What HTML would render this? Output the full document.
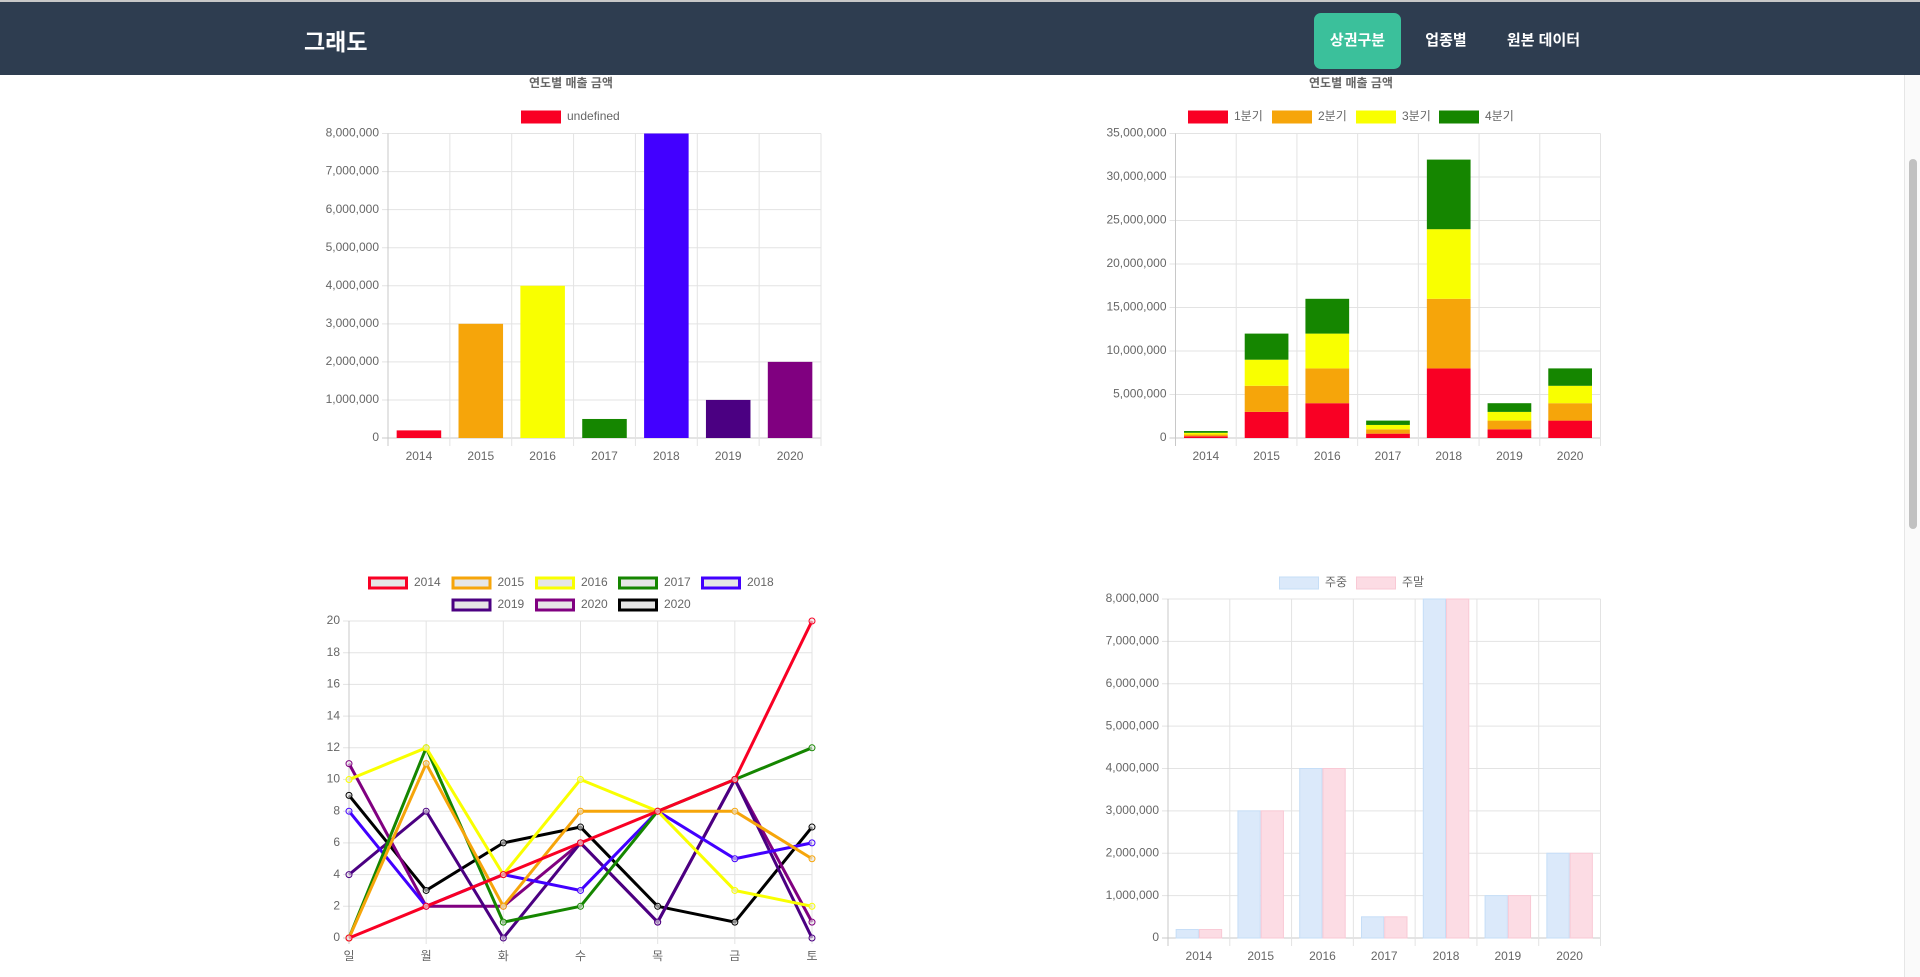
<!DOCTYPE html>
<html><head><meta charset="utf-8">
<style>
html,body{margin:0;padding:0;width:1920px;height:977px;overflow:hidden;background:#fff;font-family:"Liberation Sans","Noto Sans CJK KR",sans-serif;}
#hdr{position:absolute;left:0;top:0;width:1920px;height:75px;background:#2e3d50;border-top:2px solid #c8c8c8;box-sizing:border-box;}
#logo{position:absolute;left:304px;top:21px;color:#fff;font-size:23px;font-weight:bold;}
.tab{position:absolute;top:11px;height:56px;line-height:56px;color:#fff;font-size:15px;font-weight:bold;text-align:center;border-radius:7px;}
#svg{position:absolute;left:0;top:0;}
#sb{position:absolute;left:1904px;top:75px;width:16px;height:902px;background:#fafafa;border-left:1px solid #e6e6e6;}
#thumb{position:absolute;left:4px;top:84px;width:8px;height:370px;background:#c1c1c1;border-radius:4px;}
</style></head><body>
<div id="hdr">
<div id="logo">그래도</div>
<div class="tab" style="left:1314px;width:87px;background:#3bc09b;">상권구분</div>
<div class="tab" style="left:1416px;width:60px;">업종별</div>
<div class="tab" style="left:1496px;width:95px;">원본 데이터</div>
</div>
<svg id="svg" width="1904" height="977" xmlns="http://www.w3.org/2000/svg"></svg>
<div id="sb"><div id="thumb"></div></div>
<script>
const years = ["2014","2015","2016","2017","2018","2019","2020"];
const yearColors = ["#f90024","#f6a50a","#f9ff00","#158600","#4200ff","#4b0082","#800080"];
const yearSales = [200000,3000000,4000000,500000,8000000,1000000,2000000];
const q1 = [200000,3000000,4000000,500000,8000000,1000000,2000000];
const q2 = [200000,3000000,4000000,500000,8000000,1000000,2000000];
const q3 = [200000,3000000,4000000,500000,8000000,1000000,2000000];
const q4 = [200000,3000000,4000000,500000,8000000,1000000,2000000];
const quarterNames = ["1분기","2분기","3분기","4분기"];
const quarterColors = ["#f90024","#f6a50a","#f9ff00","#158600"];
const days = ["일","월","화","수","목","금","토"];
const lineNames = ["2014","2015","2016","2017","2018","2019","2020","2020"];
const lineColors = ["#f90024","#f6a50a","#f9ff00","#158600","#4200ff","#4b0082","#800080","#000000"];
const l2014 = [0,2,4,6,8,10,20];
const l2015 = [0,11,2,8,8,8,5];
const l2016 = [10,12,4,10,8,3,2];
const l2017 = [0,12,1,2,8,10,12];
const l2018 = [8,2,4,3,8,5,6];
const l2019 = [4,8,0,6,1,10,0];
const l2020 = [11,2,2,6,1,10,1];
const l2020b = [9,3,6,7,2,1,7];
const weekday = [200000,3000000,4000000,500000,8000000,1000000,2000000];
const weekend = [200000,3000000,4000000,500000,8000000,1000000,2000000];

const S = document.getElementById('svg');
const NS = 'http://www.w3.org/2000/svg';
function mk(tag, attrs, parent){const e=document.createElementNS(NS,tag);for(const k in attrs)e.setAttribute(k,attrs[k]);(parent||S).appendChild(e);return e;}
function txt(x,y,s,anchor,size,weight,parent){const t=mk('text',{x:x,y:y,'text-anchor':anchor||'middle','font-size':size||12,fill:'#666','font-family':'"Liberation Sans","Noto Sans CJK KR",sans-serif','dominant-baseline':'middle','font-weight':weight||'normal'},parent);t.textContent=s;return t;}
function fmt(v){return v.toLocaleString('en-US');}

function axes(g,L,R,T,B,max,step,ticksFmt,cats,catMode,labelY){
  const y=v=>B-(v/max)*(B-T);
  for(let v=0;v<=max+1e-9;v+=step){
    const yy=y(v);
    const gl=mk('line',{x1:L-6,x2:R,y1:yy,y2:yy,stroke:v===0?'#c8c8c8':'#e3e3e3','stroke-width':1},g);
    
    
    const t=txt(L-9,yy,ticksFmt(v),'end',12,'normal',g);
    
    
  }
  const n=cats.length;
  if(catMode==='band'){
    const w=(R-L)/n;
    for(let i=0;i<=n;i++){const xx=L+i*w;const l=mk('line',{x1:xx,x2:xx,y1:T,y2:B+8,stroke:i===0?'#c8c8c8':'#e3e3e3'},g);}
    cats.forEach((c,i)=>{const t=txt(L+(i+0.5)*w,labelY,c,'middle',12,'normal',g);});
  } else {
    const w=(R-L)/(n-1);
    for(let i=0;i<n;i++){const xx=L+i*w;const l=mk('line',{x1:xx,x2:xx,y1:T,y2:B+6,stroke:i===0?'#c8c8c8':'#e3e3e3'},g);}
    cats.forEach((c,i)=>{const t=txt(L+i*w,labelY,c,'middle',12,'normal',g);});
  }
  return y;
}
function legendBox(g,x,y,fill,stroke,sw,label,name){
  const r=mk('rect',{x:x+sw/2,y:y-6.5+sw/2,width:40-sw,height:13-sw,fill:fill,stroke:stroke,'stroke-width':sw},g);
  
  
  const t=txt(x+46,y,label,'start',12,'normal',g);
  
  
}

// Chart 1
(function(){
  const g=mk('g',{});
  const t=txt(571,84,'연도별 매출 금액','middle',12,'bold',g);
  legendBox(g,521,117,'#f90024','#f90024',0,'undefined','legend-entry');
  const L=388,R=821,T=133.5,B=438;
  const y=axes(g,L,R,T,B,8000000,1000000,fmt,years,'band',457);
  const w=(R-L)/7,bw=w*0.72;
  yearSales.forEach((v,i)=>{const r=mk('rect',{x:L+(i+0.5)*w-bw/2,y:y(v),width:bw,height:B-y(v),fill:yearColors[i]},g);});
})();

// Chart 2
(function(){
  const g=mk('g',{});
  const t=txt(1351,84,'연도별 매출 금액','middle',12,'bold',g);
  const lx=[1188,1272,1356,1439];
  quarterNames.forEach((q,i)=>legendBox(g,lx[i],117,quarterColors[i],quarterColors[i],0,q,'legend-entry'));
  const L=1175.5,R=1600.5,T=133.5,B=438;
  const y=axes(g,L,R,T,B,35000000,5000000,fmt,years,'band',457);
  const w=(R-L)/7,bw=w*0.72;
  const series=[q1,q2,q3,q4];
  years.forEach((yr,i)=>{let acc=0;series.forEach((s,k)=>{const y0=y(acc),y1=y(acc+s[i]);acc+=s[i];const r=mk('rect',{x:L+(i+0.5)*w-bw/2,y:y1,width:bw,height:y0-y1,fill:quarterColors[k]},g);});});
})();

// Chart 3
(function(){
  const g=mk('g',{});
  const row1=[368,451.5,535,618,701],row2=[451.5,535,618];
  lineNames.forEach((n,i)=>{const x=i<5?row1[i]:row2[i-5];const yy=i<5?583:605;legendBox(g,x,yy,'#e6e6e6',lineColors[i],3,n,'legend-entry');});
  const L=349,R=812,T=621,B=938;
  const y=axes(g,L,R,T,B,20,2,v=>String(v),days,'point',957);
  const w=(R-L)/6;
  const data=[l2014,l2015,l2016,l2017,l2018,l2019,l2020,l2020b];
  const order=[7,6,5,4,3,2,1,0];
  order.forEach(k=>{
    const pts=data[k].map((v,i)=>(L+i*w)+','+y(v)).join(' ');
    const p=mk('polyline',{points:pts,fill:'none',stroke:lineColors[k],'stroke-width':3,'stroke-linejoin':'miter'},g);
    
    
    data[k].forEach((v,i)=>{const c=mk('circle',{cx:L+i*w,cy:y(v),r:3,fill:'rgba(230,230,230,0.6)',stroke:lineColors[k],'stroke-width':1},g);});
  });
})();

// Chart 4
(function(){
  const g=mk('g',{});
  legendBox(g,1279,583,'#dbe9fa','#c6def7',1,'주중','legend-entry');
  legendBox(g,1356,583,'#fcdce4','#f9c9d5',1,'주말','legend-entry');
  const L=1168,R=1600.5,T=599,B=938;
  const y=axes(g,L,R,T,B,8000000,1000000,fmt,years,'band',957);
  const w=(R-L)/7,bw=w*0.36;
  years.forEach((yr,i)=>{
    const c=L+(i+0.5)*w;
    const a=mk('rect',{x:c-bw-0.5,y:y(weekday[i]),width:bw,height:B-y(weekday[i]),fill:'#dbe9fa',stroke:'#c6def7','stroke-width':1},g);
    
    const b=mk('rect',{x:c+0.5,y:y(weekend[i]),width:bw,height:B-y(weekend[i]),fill:'#fcdce4',stroke:'#f9c9d5','stroke-width':1},g);
    
  });
})();
</script>
</body></html>
